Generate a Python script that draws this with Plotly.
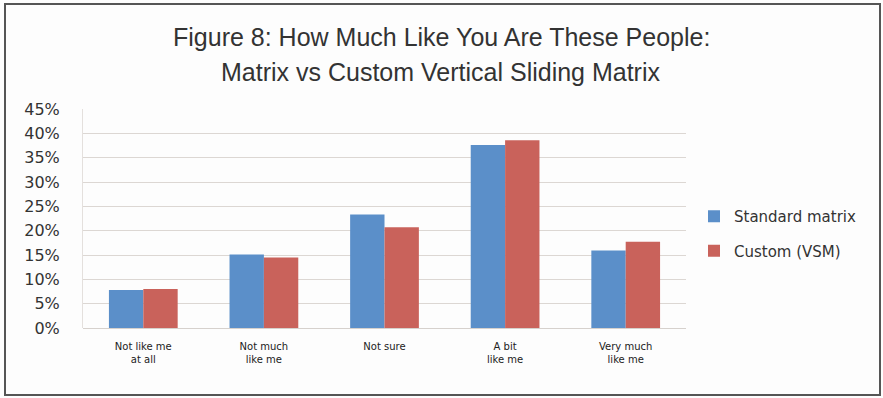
import plotly.graph_objects as go

categories = ["Not like me<br>at all", "Not much<br>like me", "Not sure", "A bit<br>like me", "Very much<br>like me"]
standard_matrix = [0.078, 0.151, 0.233, 0.376, 0.159]
custom_vsm = [0.080, 0.145, 0.207, 0.386, 0.177]
series_names = ["Standard matrix", "Custom (VSM)"]
title_lines = ["Figure 8: How Much Like You Are These People:", "Matrix vs Custom Vertical Sliding Matrix"]
y_ticks = [0, 0.05, 0.10, 0.15, 0.20, 0.25, 0.30, 0.35, 0.40, 0.45]

W, H = 883, 398
L, R, T, B = 83, 197, 109, 70
pw, ph = W - L - R, H - T - B

def px_x(x):
    return (x - L) / pw

def px_y(y):
    return (H - B - y) / ph

fig = go.Figure()
fig.add_trace(go.Bar(x=categories, y=standard_matrix, name=series_names[0],
                     marker=dict(color="#5b8fc9", line=dict(width=0)), legendgroup="a"))
fig.add_trace(go.Bar(x=categories, y=custom_vsm, name=series_names[1],
                     marker=dict(color="#c9625b", line=dict(width=0)), legendgroup="b"))

fig.update_layout(
    width=W, height=H,
    margin=dict(l=L, r=R, t=T, b=B, pad=0),
    paper_bgcolor="#fdfdfd", plot_bgcolor="#fdfdfd",
    barmode="group", bargap=0.43, bargroupgap=0,
    showlegend=True,
    legend=dict(x=px_x(694), y=px_y(200), xanchor="left", yanchor="top",
                font=dict(family="DejaVu Sans", size=15, color="#333333"),
                tracegroupgap=12, bgcolor="rgba(0,0,0,0)"),
    font=dict(family="DejaVu Sans", color="#333333"),
)
fig.update_xaxes(showgrid=False, showline=False, ticks="", ticklabelstandoff=11,
                 tickfont=dict(family="DejaVu Sans", size=10, color="#222222"))
fig.update_yaxes(range=[0, 0.45], tickvals=y_ticks, tickformat=".0%",
                 showgrid=True, gridcolor="#dcd7d3", gridwidth=1,
                 zeroline=True, zerolinecolor="#d6d1cd", zerolinewidth=1,
                 showline=True, linecolor="#e4e0dd", linewidth=1,
                 ticks="", ticklen=0, ticklabelstandoff=19,
                 tickfont=dict(family="DejaVu Sans", size=16, color="#333333"))

for i, (txt, yy) in enumerate(zip(title_lines, [37, 72])):
    fig.add_annotation(text=txt, xref="paper", yref="paper", x=px_x(441), y=px_y(yy),
                       xanchor="center", yanchor="middle", showarrow=False,
                       font=dict(family="Liberation Sans, Arial, sans-serif", size=25, color="#333333"))

fig.add_shape(type="rect", xref="paper", yref="paper",
              x0=px_x(5), x1=px_x(880), y0=px_y(395), y1=px_y(4),
              line=dict(color="#555555", width=2), fillcolor="rgba(0,0,0,0)", layer="below")

fig.write_html("out.html")
